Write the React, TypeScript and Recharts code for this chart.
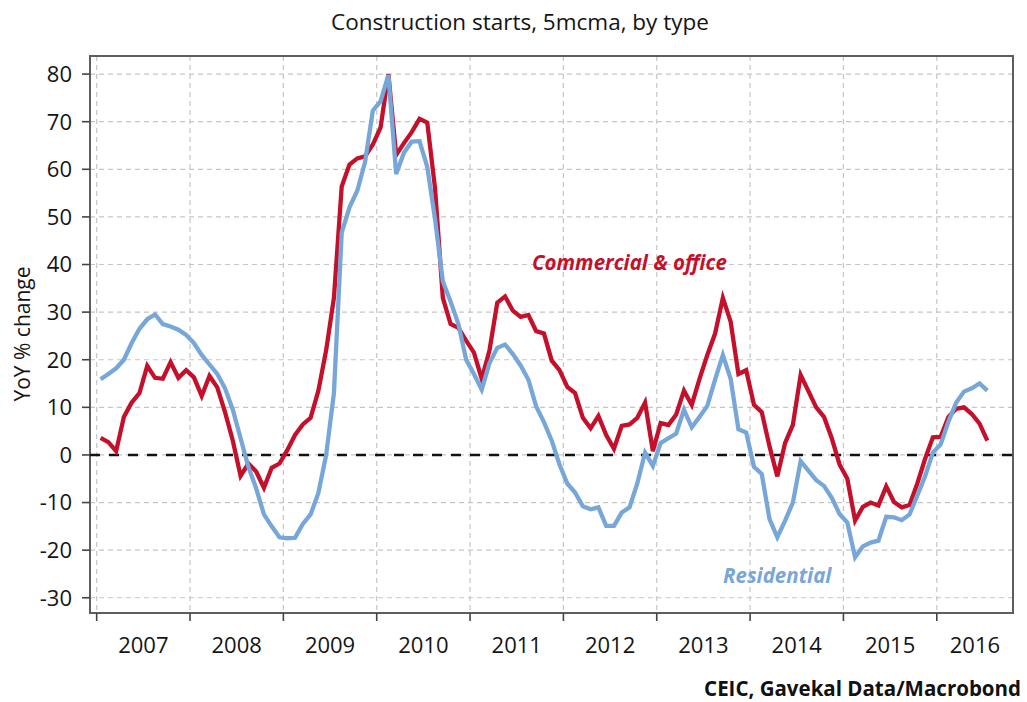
import { LineChart, Line, XAxis, YAxis, CartesianGrid, ReferenceLine, ReferenceArea } from 'recharts'

// year labels on the x axis; series are monthly from Jan 2007
const years = [2007, 2008, 2009, 2010, 2011, 2012, 2013, 2014, 2015, 2016]
const yTicks = [-30, -20, -10, 0, 10, 20, 30, 40, 50, 60, 70, 80]

// Commercial & office, YoY %, 5mcma
const commercial = [
  3.6, 2.7, 0.8, 8, 11, 13, 18.7, 16.2, 16, 19.5, 16.2, 17.8, // 2007
  16.3, 12.4, 16.6, 14.2, 9, 3, -4.4, -1.8, -3.5, -6.9, -2.7, -1.8, // 2008
  1, 4.2, 6.4, 7.8, 13.5, 22, 33, 56.4, 61, 62.3, 62.7, 65.2, // 2009
  68.8, 80, 63, 65.5, 67.8, 70.6, 69.8, 56, 33, 27.5, 26.7, 24, // 2010
  21.5, 16, 22, 32, 33.3, 30.3, 29, 29.4, 26, 25.5, 19.8, 17.8, // 2011
  14.3, 13, 7.8, 5.6, 8.2, 4.2, 1.3, 6.1, 6.4, 7.8, 11, 0.8, // 2012
  6.7, 6.3, 8.5, 13.5, 10.5, 16, 21, 25.5, 33, 28, 17, 17.8, // 2013
  10.5, 9, 1.8, -4.5, 2.5, 6.3, 16.8, 13.4, 10, 8, 3.5, -2, // 2014
  -5, -13.8, -10.9, -10, -10.6, -6.6, -9.9, -11, -10.5, -6, -0.8, 3.7, // 2015
  3.8, 8, 9.7, 10, 8.6, 6.6, 3, // 2016
]

// Residential, YoY %, 5mcma
const residential = [
  15.9, 17, 18.2, 20, 23.5, 26.5, 28.5, 29.5, 27.5, 27, 26.3, 25.2, // 2007
  23.5, 21, 19, 17, 14, 9.5, 3.5, -2.5, -7, -12.5, -15, -17.3, // 2008
  -17.5, -17.4, -14.5, -12.5, -8, 0, 13, 46.7, 52, 55.5, 61.5, 72.3, // 2009
  74.3, 79.8, 59, 63.5, 65.8, 65.9, 60.5, 49.5, 36.5, 32.2, 27.5, 20, // 2010
  17, 13.7, 19.3, 22.5, 23.2, 21.2, 18.8, 15.8, 10.2, 6.9, 3, -2, // 2011
  -6, -7.9, -10.8, -11.4, -11, -14.9, -14.9, -12.1, -11, -6, 0.5, -2.3, // 2012
  2.5, 3.5, 4.5, 9.5, 5.8, 8, 10.3, 15.8, 21, 16, 5.4, 4.7, // 2013
  -2.5, -4, -13.5, -17.3, -13.8, -10, -1.3, -3.3, -5.3, -6.5, -9, -12.4, // 2014
  -14.2, -21.5, -19.2, -18.4, -18, -13, -13.1, -13.7, -12.5, -8.5, -4.5, 0.5, // 2015
  2.2, 7, 11, 13.3, 14, 15, 13.5, // 2016
]

const RED = '#C5102C'
const BLUE = '#77A6D9'
const INK = '#141414'
const FONT = '"Open Sans", "Noto Sans", sans-serif'

const W = 1027
const H = 702
const margin = { top: 56, right: 14, bottom: 49, left: 0 }
const Y_AXIS_W = 90
const X_AXIS_H = 40
const X_MIN = -0.86
const X_MAX = 117.8
const Y_MIN = -33.2
const Y_MAX = 83.8
const PX_PER_MONTH = (W - margin.left - margin.right - Y_AXIS_W) / (X_MAX - X_MIN)

// points sit mid-month
const data = commercial.map((c, i) => ({ t: i + 0.5, commercial: c, residential: residential[i] }))
const yearStarts = years.map((_, k) => k * 12)

function YearTick(props: any) {
  const { x, y, payload } = props
  const start = payload.value as number
  const end = Math.min(start + 12, X_MAX)
  const dx = ((end - start) / 2) * PX_PER_MONTH
  return (
    <text x={x + dx} y={y} dy="0.71em" textAnchor="middle" fontSize={22} fill={INK} fontFamily={FONT}>
      {years[Math.round(start / 12)]}
    </text>
  )
}

export default function App() {
  return (
    <div style={{ position: 'absolute', left: 0, top: 0, width: W, height: H, background: '#fff', fontFamily: FONT }}>
      <div style={{ position: 'absolute', left: 0, width: 1040, top: 11, textAlign: 'center', fontSize: 22.5, lineHeight: '22px', color: INK }}>
        Construction starts, 5mcma, by type
      </div>

      <LineChart width={W} height={H} data={data} margin={margin}>
        <CartesianGrid stroke="#c6c6c6" strokeDasharray="5 4" strokeWidth={1.2} />
        <XAxis
          dataKey="t"
          type="number"
          domain={[X_MIN, X_MAX]}
          allowDataOverflow
          ticks={yearStarts}
          tick={<YearTick />}
          tickSize={8}
          tickMargin={16}
          height={X_AXIS_H}
          axisLine={false}
          tickLine={{ stroke: '#444', strokeWidth: 1.6 }}
        />
        <YAxis
          type="number"
          domain={[Y_MIN, Y_MAX]}
          allowDataOverflow
          ticks={yTicks}
          width={Y_AXIS_W}
          tickSize={8}
          tickMargin={10}
          axisLine={false}
          tickLine={{ stroke: '#444', strokeWidth: 1.6 }}
          tick={{ fontSize: 22, fill: INK, fontFamily: FONT }}
        />
        <ReferenceLine y={0} stroke="#111" strokeWidth={2.5} strokeDasharray="10 9" />
        <ReferenceArea
          x1={X_MIN}
          x2={X_MAX}
          y1={Y_MIN}
          y2={Y_MAX}
          fill="none"
          stroke="#5e5e5e"
          strokeWidth={2}
          ifOverflow="visible"
        />
        <Line type="linear" dataKey="commercial" stroke={RED} strokeWidth={4.3} dot={false} isAnimationActive={false} />
        <Line type="linear" dataKey="residential" stroke={BLUE} strokeWidth={4.3} dot={false} isAnimationActive={false} />
      </LineChart>

      <div
        style={{
          position: 'absolute',
          left: 22 - 100,
          top: 334 - 11,
          width: 200,
          textAlign: 'center',
          fontSize: 21,
          lineHeight: '22px',
          color: INK,
          transform: 'rotate(-90deg)',
        }}
      >
        YoY % change
      </div>

      <div style={{ position: 'absolute', left: 532, top: 252, fontSize: 20.5, lineHeight: '20px', fontWeight: 700, fontStyle: 'italic', color: RED }}>
        Commercial &amp; office
      </div>
      <div style={{ position: 'absolute', left: 723, top: 565, fontSize: 20.5, lineHeight: '20px', fontWeight: 700, fontStyle: 'italic', color: BLUE }}>
        Residential
      </div>

      <div style={{ position: 'absolute', right: 6, top: 678, fontSize: 20.5, lineHeight: '20px', fontWeight: 700, color: '#111' }}>
        CEIC, Gavekal Data/Macrobond
      </div>
    </div>
  )
}
